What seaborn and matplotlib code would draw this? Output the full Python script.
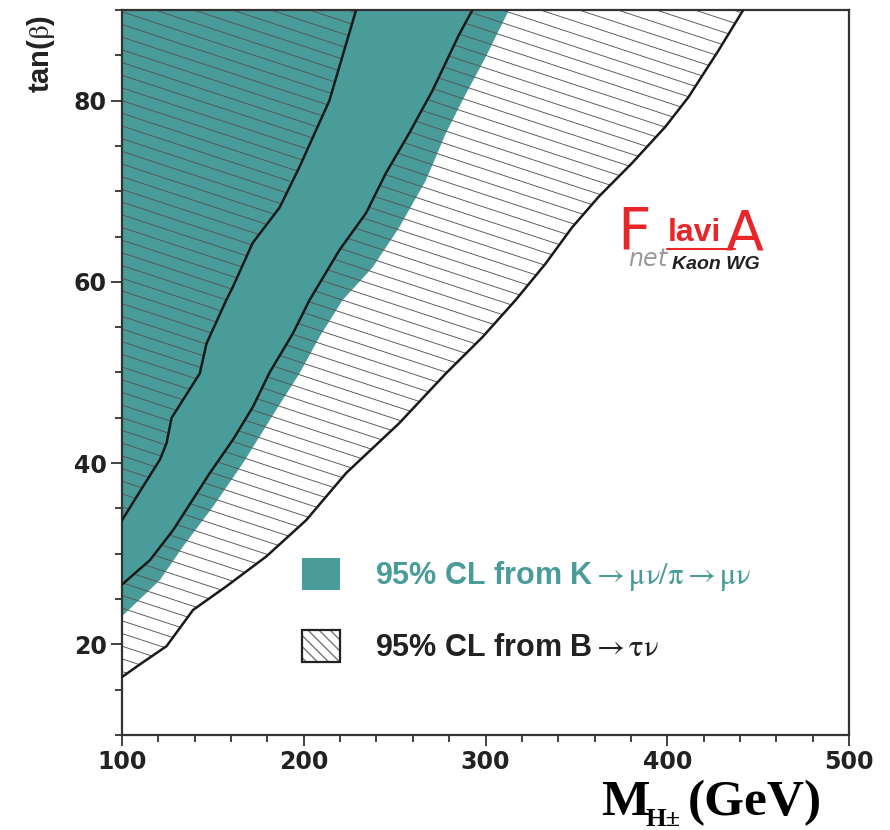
import numpy as np
import matplotlib
matplotlib.use("Agg")
import matplotlib.pyplot as plt
import seaborn as sns
from matplotlib.patches import Patch
from matplotlib.collections import LineCollection
from matplotlib.lines import Line2D
from matplotlib.legend_handler import HandlerTuple

# --- data (M_H in GeV, tan(beta)) ---
# edge of the teal K->mu nu / pi->mu nu allowed region
teal_m = [100, 120.9, 133.6, 150.1, 166.6, 184.9, 197.7, 208.6, 221.4, 237.9, 252.5, 267.2, 278.2, 289.1, 300.1, 312.9]
teal_tb = [23.1, 27.1, 30.8, 35.2, 40.0, 45.9, 49.9, 53.9, 58.0, 61.6, 66.0, 71.2, 76.4, 80.7, 84.8, 90]

# B->tau nu 95% CL contours
b1_m = [100, 111.5, 120.9, 124.5, 127.3, 142.8, 146.5, 157.4, 160.9, 171.9, 186.7, 197.7, 214.1, 228.8]
b1_tb = [33.7, 37.4, 40.4, 42.2, 45.0, 49.9, 53.2, 58.0, 59.4, 64.3, 68.2, 72.7, 80.0, 90]

b2_m = [100, 115.4, 128.1, 148.3, 161.1, 172.0, 181.2, 194.0, 203.2, 219.6, 234.3, 245.2, 258.0, 270.8, 285.5, 292.8]
b2_tb = [26.6, 29.3, 32.6, 38.9, 42.6, 46.2, 50.0, 54.3, 58.0, 63.5, 67.6, 72.0, 76.4, 81.1, 87.3, 90]

b3_m = [100, 109.9, 124.5, 139.1, 157.4, 179.4, 201.3, 223.3, 252.5, 278.2, 298.3, 316.6, 333.0, 347.6, 362.3, 380.6, 398.9, 411.7, 428.1, 441.8]
b3_tb = [16.4, 17.8, 19.8, 23.8, 26.4, 29.7, 33.7, 38.9, 44.4, 49.9, 53.9, 58.0, 62.0, 66.0, 69.4, 73.1, 77.1, 80.4, 85.5, 90]

x_ticks = [100, 200, 300, 400, 500]
y_ticks = [20, 40, 60, 80]

TEAL = "#4a9c9a"
HATCH = "#555555"
RED = "#e8262a"

sns.set_theme(style="white")
plt.rcParams["font.family"] = ["Liberation Sans", "DejaVu Sans"]
plt.rcParams["mathtext.fontset"] = "stix"

fig = plt.figure(figsize=(8.9, 8.3), dpi=100)
ax = fig.add_axes([122 / 890, 1 - 735 / 830, 727 / 890, 725 / 830])
ax.set_xlim(100, 500)
ax.set_ylim(10, 90)

# teal region
ax.fill(np.r_[teal_m, teal_m[0]], np.r_[teal_tb, teal_tb[-1]], color=TEAL, lw=0, zorder=1)

# hatched B->tau nu excluded regions
left_poly = ax.fill(np.r_[b1_m, b1_m[0]], np.r_[b1_tb, b1_tb[-1]], facecolor="none", lw=0, zorder=2)[0]
band_poly = ax.fill(np.r_[b3_m, b2_m[::-1]], np.r_[b3_tb, b2_tb[::-1]], facecolor="none", lw=0, zorder=2)[0]

# shallow hatch texture, clipped to the two regions
offs = np.arange(0.0, 1.40, 0.0175)
segs = [[(0, c), (1, c - 0.33)] for c in offs]
for poly in (left_poly, band_poly):
    lc = LineCollection(segs, colors=HATCH, linewidths=0.65, transform=ax.transAxes, zorder=2)
    ax.add_collection(lc)
    lc.set_clip_path(poly)

for m, tb in [(b1_m, b1_tb), (b2_m, b2_tb), (b3_m, b3_tb)]:
    sns.lineplot(x=m, y=tb, sort=False, ax=ax, color="#1a1a1a", lw=1.8, zorder=3)

# axes styling
for s in ax.spines.values():
    s.set_color("#333333")
    s.set_linewidth(1.6)
ax.set_xticks(x_ticks)
ax.set_yticks(y_ticks)
ax.set_xticks(np.arange(100, 501, 20), minor=True)
ax.set_yticks(np.arange(10, 91, 5), minor=True)
ax.tick_params(which="both", direction="out", bottom=True, left=True, top=False, right=False,
               color="#333333", width=1.3)
ax.tick_params(which="major", length=8, labelsize=17, pad=3)
ax.tick_params(which="minor", length=5)
for lab in ax.get_xticklabels() + ax.get_yticklabels():
    lab.set_fontweight("bold")
    lab.set_family(["DejaVu Sans"])
    lab.set_color("#222222")
ax.set_xlabel("")
ax.set_ylabel("")

fig.text(41 / 890, 1 - 54 / 830, r"tan($\mathrm{\beta}$)", rotation=90, fontsize=21,
         fontweight="bold", ha="center", va="center", color="#222222")

# x axis title: M, subscript H+-, (GeV)
serif = ["Liberation Serif"]
fig.text(822 / 890, 1 - 815 / 830, "(GeV)", fontsize=37, fontweight="bold", family=serif,
         ha="right", va="baseline", color="black")
fig.text(681 / 890, 1 - 826 / 830, "H±", fontsize=19, fontweight="bold", family=serif,
         ha="right", va="baseline", color="black")
fig.text(650 / 890, 1 - 815 / 830, "M", fontsize=37, fontweight="bold", family=serif,
         ha="right", va="baseline", color="black")

# legend
h_teal = Patch(facecolor=TEAL, edgecolor=TEAL, lw=0)
h_hatch = (Patch(facecolor="white", edgecolor="#777777", hatch="\\\\\\", lw=0),
           Patch(facecolor="none", edgecolor="#222222", lw=1.6))
leg = ax.legend([h_teal, h_hatch],
                [r"95% CL from K$\mathrm{{\rightarrow}\mu\nu/\pi{\rightarrow}\mu\nu}$",
                 r"95% CL from B$\mathrm{{\rightarrow}\tau\nu}$"],
                handler_map={tuple: HandlerTuple(ndivide=1, pad=0)},
                loc="upper left", bbox_to_anchor=(0.21, 0.282), frameon=False,
                prop={"size": 22, "weight": "bold"}, handlelength=1.24, handleheight=1.24,
                handletextpad=1.15, labelspacing=1.2)
leg.get_texts()[0].set_color(TEAL)
leg.get_texts()[1].set_color("#222222")

# FlaviA logo
fig.text(617 / 890, 1 - 249 / 830, r"$\mathrm{F}$", fontsize=42, color=RED, ha="left",
         va="baseline", math_fontfamily="dejavusans")
fig.text(668 / 890, 1 - 241 / 830, "lavi", fontsize=23, fontweight="bold", color=RED,
         ha="left", va="baseline")
fig.text(725 / 890, 1 - 249 / 830, r"$\mathrm{A}$", fontsize=40, color=RED, ha="left",
         va="baseline", math_fontfamily="dejavusans")
fig.add_artist(Line2D([667 / 890, 735 / 890], [1 - 249 / 830, 1 - 249 / 830], color=RED, lw=1.5))
fig.text(628 / 890, 1 - 266 / 830, r"$\mathit{net}$", fontsize=17, color="#999999",
         ha="left", va="baseline", math_fontfamily="dejavusans")
fig.text(672 / 890, 1 - 269 / 830, "Kaon WG", fontsize=14, style="italic", fontweight="bold",
         color="#222222", ha="left", va="baseline")

fig.savefig("out.png", dpi=100)
